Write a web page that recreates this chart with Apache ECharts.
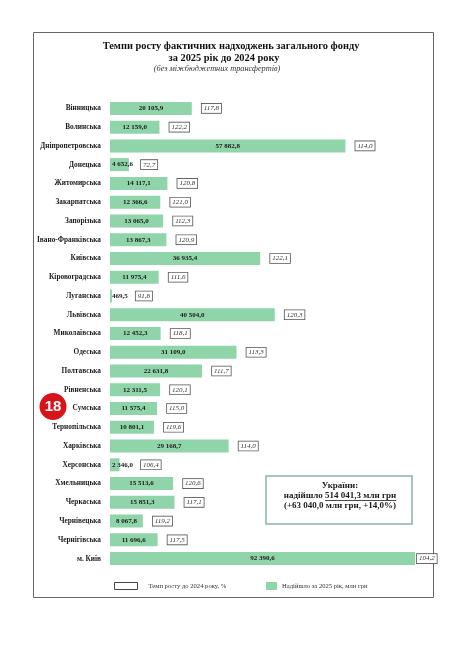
<!DOCTYPE html>
<html><head><meta charset="utf-8">
<script src="https://cdn.jsdelivr.net/npm/echarts@6/dist/echarts.min.js"></script>
<style>html,body{margin:0;padding:0;background:#fff}#c{width:468px;height:663px}</style>
</head><body><div id="c"></div>
<script>
// ---- data ----
const regions = ['Вінницька','Волинська','Дніпропетровська','Донецька','Житомирська','Закарпатська','Запорізька','Івано-Франківська','Київська','Кіровоградська','Луганська','Львівська','Миколаївська','Одеська','Полтавська','Рівненська','Сумська','Тернопільська','Харківська','Херсонська','Хмельницька','Черкаська','Чернівецька','Чернігівська','м. Київ'];
const received = [20105.9,12159.0,57882.8,4652.6,14117.1,12366.6,13065.0,13867.3,36935.4,11975.4,469.5,40504.0,12452.3,31109.0,22631.8,12311.5,11575.4,10801.1,29168.7,2346.0,15513.6,15851.3,8067.8,11696.6,92390.6];
const growth = [117.8,122.2,114.0,72.7,120.8,121.0,112.3,120.9,122.1,111.6,91.8,120.3,118.1,113.3,111.7,120.1,115.0,119.6,114.0,106.4,120.6,117.1,119.2,117.5,104.2];
const titleLines = ['Темпи росту фактичних надходжень загального фонду','за 2025 рік до 2024 року'];
const subTitle = '(без міжбюджетних трансфертів)';
const seriesNames = ['Надійшло за 2025 рік, млн грн','Темп росту до 2024 року, %'];
const ukraineHead = 'України:';
const ukraineTotal = '514 041,3 млн грн';
const ukraineDelta = '(+63 040,0 млн грн, +14,0%)';
const markerRegion = 'Сумська';
const markerText = '18';

// ---- style ----
const FONT = '"Liberation Serif","DejaVu Serif",serif';
const AXIS_MAX = 75000;
const GRID_L = 110, GRID_R = 53, GRID_T = 99, GRID_B = 95;
const GRID_W = 468 - GRID_L - GRID_R;
const GREEN = '#90d4a9';

function fmtNum(v){ const p=v.toFixed(1).split('.'); return p[0].replace(/\B(?=(\d{3})+(?!\d))/g,' ')+','+p[1]; }
function fmtRate(v){ return v.toFixed(1).replace('.',','); }
const cv = document.createElement('canvas').getContext('2d');
function tw(text, font){ cv.font = font; return cv.measureText(text).width; }

const valueFont = 'bold 7px ' + FONT;
const valueData = received.map(v => {
  const small = v / AXIS_MAX * GRID_W < tw(fmtNum(v), valueFont) + 6;
  return small ? {value:v, label:{position:'insideLeft', distance:2}} : {value:v};
});
const rateData = received.map(v => {
  const barPx = Math.min(v, AXIS_MAX) / AXIS_MAX * GRID_W;
  const textPx = tw(fmtNum(v), valueFont) + 6;
  let dist = 10;
  if (v > AXIS_MAX) dist = 2;
  else if (barPx < textPx) dist = Math.max(4, textPx - barPx + 4);
  return {value:v, label:{distance:dist}};
});

const chart = echarts.init(document.getElementById('c'), null, {renderer:'canvas'});

// title placement (centres)
const t1Font = 'bold 10.4px ' + FONT, t3Font = 'italic 8.3px ' + FONT;
const titleCenters = [231, 224, 217];
const titles = [
  {text:titleLines[0], top:41.5, left: titleCenters[0] - tw(titleLines[0], t1Font)/2,
   textStyle:{fontFamily:FONT, fontSize:10.4, fontWeight:'bold', color:'#111'}},
  {text:titleLines[1], top:53.5, left: titleCenters[1] - tw(titleLines[1], t1Font)/2,
   textStyle:{fontFamily:FONT, fontSize:10.4, fontWeight:'bold', color:'#111'}},
  {text:subTitle, top:64.5, left: titleCenters[2] - tw(subTitle, t3Font)/2,
   textStyle:{fontFamily:FONT, fontSize:8.3, fontStyle:'italic', fontWeight:'normal', color:'#333'}}
].map(t => Object.assign({padding:0}, t));

// Ukraine summary box text metrics
const lineFont = 'bold 9px ' + FONT;
const line2 = 'надійшло ' + ukraineTotal;
const w2 = tw(line2, lineFont), wPre = tw('надійшло ', lineFont);
const boxCx = 340;
const ulX1 = boxCx - w2/2 + wPre, ulX2 = boxCx + w2/2;

const markerY = GRID_T + (regions.indexOf(markerRegion) + 0.5) * (663 - GRID_T - GRID_B) / regions.length;

chart.setOption({
  animation:false,
  backgroundColor:'#fff',
  title: titles,
  grid:{left:GRID_L, right:GRID_R, top:GRID_T, bottom:GRID_B, containLabel:false},
  xAxis:{type:'value', min:0, max:AXIS_MAX, show:false},
  yAxis:{type:'category', inverse:true, data:regions,
    axisLine:{show:false}, axisTick:{show:false}, splitLine:{show:false},
    axisLabel:{margin:9, fontFamily:FONT, fontWeight:'bold', fontSize:7.3, color:'#1a1a1a'}},
  legend:[
    {data:[{name:seriesNames[1], icon:'rect', itemStyle:{color:'#fff', borderColor:'#444', borderWidth:1}}],
     left:114, top:582, padding:0, itemWidth:23, itemHeight:7, selectedMode:false,
     textStyle:{fontFamily:FONT, fontSize:6.6, color:'#333', padding:[0,0,0,6]}},
    {data:[{name:seriesNames[0], icon:'rect'}],
     left:266, top:582, padding:0, itemWidth:11, itemHeight:8, selectedMode:false,
     textStyle:{fontFamily:FONT, fontSize:6.6, color:'#333'}}
  ],
  series:[
    {name:seriesNames[0], type:'bar', barWidth:13, data:valueData,
     itemStyle:{color:GREEN},
     label:{show:true, position:'inside', formatter:p=>fmtNum(p.value),
       fontFamily:FONT, fontWeight:'bold', fontSize:7, color:'#1a1a1a'}},
    {name:seriesNames[1], type:'bar', barWidth:13, barGap:'-100%', data:rateData,
     itemStyle:{color:'rgba(0,0,0,0)'}, silent:true,
     label:{show:true, position:'right', formatter:p=>fmtRate(growth[p.dataIndex]),
       fontFamily:FONT, fontStyle:'italic', fontSize:7, color:'#333',
       backgroundColor:'#fff', borderColor:'#555', borderWidth:0.8, padding:[1,2,0,2], lineHeight:8}}
  ],
  graphic:[
    {type:'rect', shape:{x:33.5, y:32.5, width:400, height:565}, style:{fill:'none', stroke:'#666', lineWidth:1}, silent:true},
    {type:'rect', shape:{x:266, y:476, width:146, height:48}, style:{fill:'#fff', stroke:'#8cb5a2', lineWidth:1.5}},
    {type:'text', x:boxCx, y:486, style:{text:ukraineHead, font:lineFont, fill:'#1a1a1a', align:'center', verticalAlign:'middle'}},
    {type:'text', x:boxCx, y:496, style:{text:line2, font:lineFont, fill:'#1a1a1a', align:'center', verticalAlign:'middle'}},
    {type:'line', shape:{x1:ulX1, y1:500.5, x2:ulX2, y2:500.5}, style:{stroke:'#1a1a1a', lineWidth:0.8}},
    {type:'text', x:boxCx, y:506, style:{text:ukraineDelta, font:lineFont, fill:'#1a1a1a', align:'center', verticalAlign:'middle'}},
    {type:'circle', shape:{cx:53, cy:markerY - 2, r:13.5}, style:{fill:'#d7141a'}},
    {type:'text', x:53, y:markerY - 2, style:{text:markerText, font:'bold 15px "Liberation Sans",Arial,sans-serif', fill:'#fff', align:'center', verticalAlign:'middle'}}
  ]
});
</script></body></html>
